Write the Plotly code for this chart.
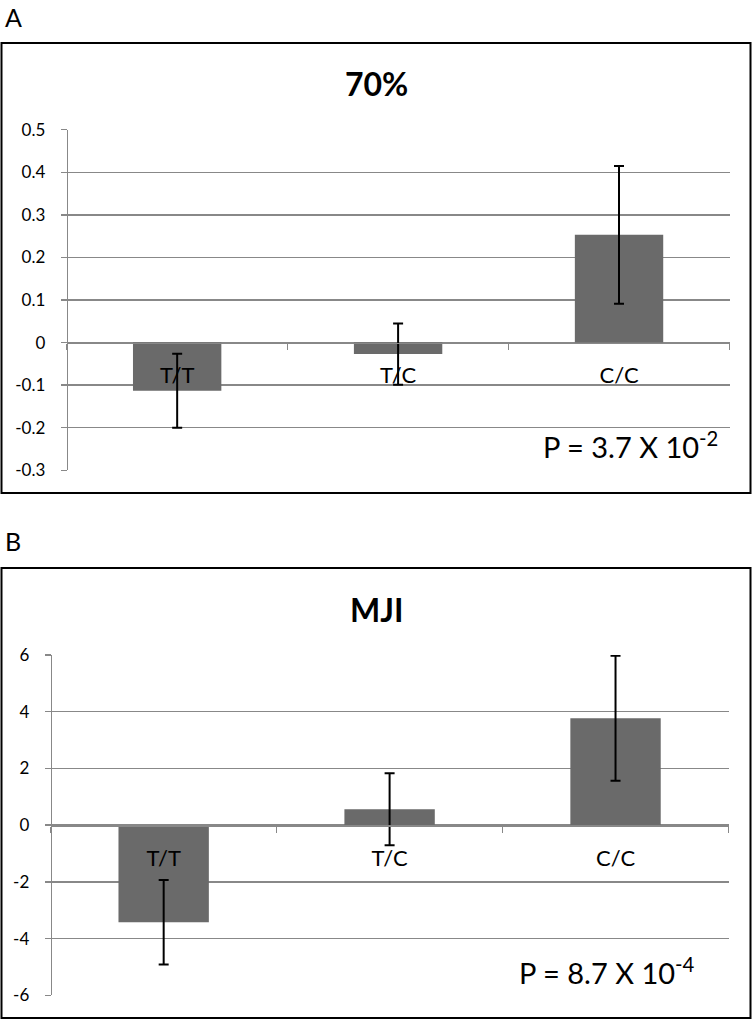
import plotly.graph_objects as go

# ---------------- data ----------------
categories = ["T/T", "T/C", "C/C"]

a_title = "70%"
a_values = [-0.113, -0.027, 0.253]
a_errors = [0.087, 0.072, 0.162]
a_ticks = [-0.3, -0.2, -0.1, 0, 0.1, 0.2, 0.3, 0.4, 0.5]
a_ticktext = ["-0.3", "-0.2", "-0.1", "0", "0.1", "0.2", "0.3", "0.4", "0.5"]
a_pvalue = "P = 3.7 X 10<sup>-2</sup>"

b_title = "MJI"
b_values = [-3.42, 0.56, 3.77]
b_errors = [1.49, 1.27, 2.20]
b_ticks = [-6, -4, -2, 0, 2, 4, 6]
b_ticktext = ["-6", "-4", "-2", "0", "2", "4", "6"]
b_pvalue = "P = 8.7 X 10<sup>-4</sup>"

# ---------------- style ----------------
W, H = 752, 1020
FONT = "Lato, Open Sans, sans-serif"
BAR = "#6a6a6a"
GRID = "#888888"


def px_x(p):
    return p / W


def px_y(p):
    return 1 - p / H


fig = go.Figure()

panels = [
    dict(vals=a_values, errs=a_errors, ticks=a_ticks, ticktext=a_ticktext,
         xdom=(66.7, 729.5), ydom=(470.3, 129.7), xa="x", ya="y"),
    dict(vals=b_values, errs=b_errors, ticks=b_ticks, ticktext=b_ticktext,
         xdom=(50.7, 728.5), ydom=(995.3, 655.0), xa="x2", ya="y2"),
]

for i, p in enumerate(panels):
    fig.add_trace(go.Bar(
        x=list(range(len(categories))), y=p["vals"],
        width=0.4, marker=dict(color=BAR, line=dict(width=0)),
        error_y=dict(type="data", array=p["errs"], visible=True,
                     color="black", thickness=2, width=5),
        xaxis=p["xa"], yaxis=p["ya"], showlegend=False, hoverinfo="skip",
    ))
    ymin, ymax = p["ticks"][0], p["ticks"][-1]
    ydom = (px_y(p["ydom"][0]), px_y(p["ydom"][1]))
    xdom = (px_x(p["xdom"][0]), px_x(p["xdom"][1]))
    zero_pos = ydom[0] + (0 - ymin) / (ymax - ymin) * (ydom[1] - ydom[0])
    sfx = "" if i == 0 else "2"
    fig.update_layout(**{
        "xaxis" + sfx: dict(
            domain=list(xdom), range=[-0.5, len(categories) - 0.5],
            anchor="free", position=zero_pos, automargin=False,
            showline=True, linecolor=GRID, linewidth=1.5,
            tickvals=list(range(len(categories))), ticktext=categories,
            ticks="", showgrid=False, zeroline=False,
            tickfont=dict(family=FONT, size=22, color="black"),
            ticklabelstandoff=13,
            minor=dict(tickvals=[-0.5, 0.5, 1.5, 2.5], ticks="outside",
                       ticklen=6, tickcolor=GRID, tickwidth=1.5, showgrid=False),
            fixedrange=True,
        ),
        "yaxis" + sfx: dict(
            domain=list(ydom), range=[ymin, ymax],
            anchor="free", position=xdom[0], automargin=False,
            tickvals=p["ticks"], ticktext=p["ticktext"],
            showgrid=True, gridcolor=GRID, gridwidth=1.5,
            showline=True, linecolor=GRID, linewidth=1.5,
            ticks="outside", ticklen=6, tickcolor=GRID, tickwidth=1.5,
            zeroline=False,
            tickfont=dict(family=FONT, size=17, color="black"),
            ticklabelstandoff=12,
            fixedrange=True,
        ),
    })

# panel borders
for top, bot in [(43, 493), (568, 1018)]:
    fig.add_shape(type="rect", xref="paper", yref="paper",
                  x0=px_x(1.5), x1=px_x(750.5), y0=px_y(bot), y1=px_y(top),
                  line=dict(color="black", width=2), fillcolor="rgba(0,0,0,0)")

ann = [
    dict(text="A", x=px_x(3), y=px_y(17), xanchor="left", size=25),
    dict(text="B", x=px_x(3), y=px_y(541), xanchor="left", size=25),
    dict(text="<b>" + a_title + "</b>", x=0.5, y=px_y(83), xanchor="center", size=32),
    dict(text="<b>" + b_title + "</b>", x=0.5, y=px_y(609), xanchor="center", size=32),
    dict(text=a_pvalue, x=px_x(541), y=px_y(445), xanchor="left", size=29),
    dict(text=b_pvalue, x=px_x(517), y=px_y(971), xanchor="left", size=29),
]
for a in ann:
    fig.add_annotation(text=a["text"], x=a["x"], y=a["y"], xref="paper", yref="paper",
                       xanchor=a["xanchor"], yanchor="middle", showarrow=False,
                       font=dict(family=FONT, size=a["size"], color="black"))

fig.update_layout(
    template="none",
    width=W, height=H, autosize=False,
    margin=dict(l=0, r=0, t=0, b=0, pad=0, autoexpand=False),
    paper_bgcolor="white", plot_bgcolor="white",
    bargap=0.6,
)

fig.write_html(
    "out.html",
    config={"displayModeBar": False, "staticPlot": True},
    post_script=(
        "document.documentElement.style.margin='0';"
        "document.documentElement.style.overflow='hidden';"
        "document.body.style.margin='0';document.body.style.padding='0';"
        "document.body.style.overflow='hidden';"
        "var d=document.getElementById('{plot_id}');"
        "d.style.position='absolute';d.style.top='0px';d.style.left='0px';"
    ),
)
